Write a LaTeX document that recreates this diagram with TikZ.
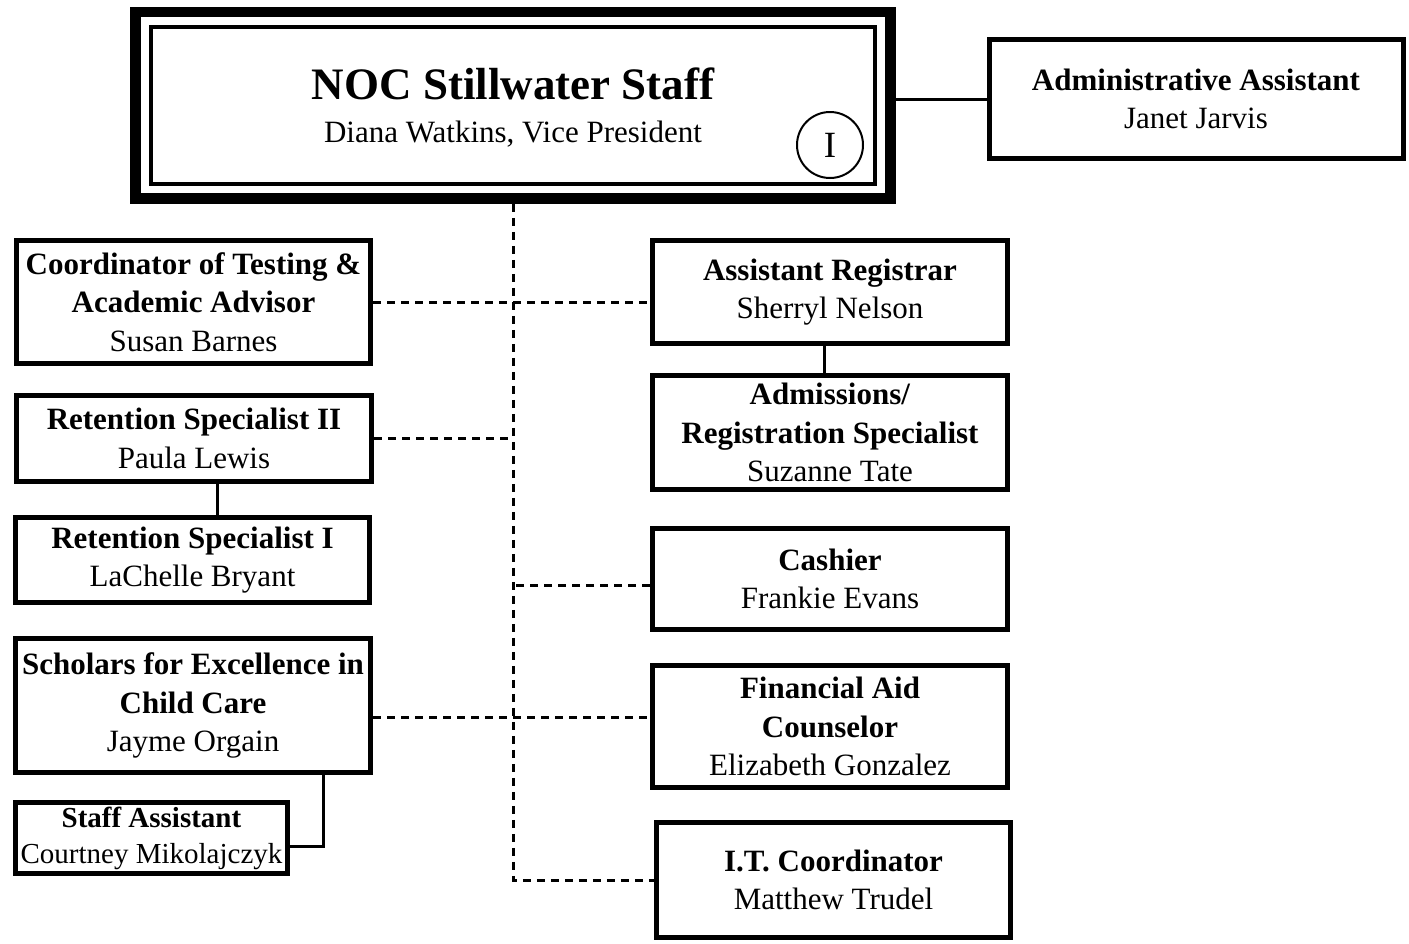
\documentclass[tikz,border=0pt]{standalone}
\usepackage{fontspec}
\setmainfont{Liberation Serif}

\begin{document}
\begin{tikzpicture}[x=1pt,y=-1pt,
    box/.style={draw,line width=5pt,align=center,inner sep=0pt,
        font=\fontsize{31}{38.5}\selectfont},
    link/.style={line width=3pt},
    dashlink/.style={line width=3pt,dash pattern=on 8pt off 6pt}]
    % \draw[help lines] (0,0) grid[step=100] (1409,943);
    \useasboundingbox (0,0) rectangle (1409,943);

    % head of the staff
    \node[draw,line width=10.5pt,minimum width=755pt,minimum height=186.5pt] (top) at (513,105.25) {};
    \draw[line width=4pt] ([shift={(20.25,20.25)}]top.north west) rectangle ([shift={(-20.75,-19.75)}]top.south east);
    \node[anchor=base,font=\fontsize{45}{48}\selectfont\bfseries] (title) at (513,99) {NOC Stillwater Staff};
    \node[anchor=base,font=\fontsize{31}{36}\selectfont] (vp) at (513,142) {Diana Watkins, Vice President};
    \node[draw,circle,line width=2pt,minimum size=66pt,inner sep=0pt,font=\fontsize{37}{37}\selectfont] (badge) at (830,145) {I};

    \node[box,minimum width=414pt,minimum height=119pt] (admin) at (1196,99) {\textbf{Administrative Assistant}\\Janet Jarvis};

    % left column
    \node[box,minimum width=354pt,minimum height=123pt] (coord) at (193.5,302) {\textbf{Coordinator of Testing \&}\\\textbf{Academic Advisor}\\Susan Barnes};
    \node[box,minimum width=355pt,minimum height=86pt] (ret2) at (194,438.5) {\textbf{Retention Specialist II}\\Paula Lewis};
    \node[box,minimum width=354pt,minimum height=85pt] (ret1) at (192.5,560) {\textbf{Retention Specialist I}\\LaChelle Bryant};
    \node[box,minimum width=355pt,minimum height=134pt] (scholars) at (193,705.5) {\textbf{Scholars for Excellence in}\\\textbf{Child Care}\\Jayme Orgain};
    \node[box,minimum width=272pt,minimum height=71pt,font=\fontsize{29}{36}\selectfont] (staffasst) at (151.5,838) {\textbf{Staff Assistant}\\Courtney Mikolajczyk};

    % right column
    \node[box,minimum width=355pt,minimum height=103pt] (asstreg) at (830,292) {\textbf{Assistant Registrar}\\Sherryl Nelson};
    \node[box,minimum width=355pt,minimum height=114pt] (admissions) at (830,432.5) {\textbf{Admissions/}\\\textbf{Registration Specialist}\\Suzanne Tate};
    \node[box,minimum width=355pt,minimum height=101pt] (cashier) at (830,579) {\textbf{Cashier}\\Frankie Evans};
    \node[box,minimum width=355pt,minimum height=122pt] (finaid) at (830,726.5) {\textbf{Financial Aid}\\\textbf{Counselor}\\Elizabeth Gonzalez};
    \node[box,minimum width=354pt,minimum height=115pt] (itcoord) at (833.5,880) {\textbf{I.T. Coordinator}\\Matthew Trudel};

    % connectors
    \draw[link] (top.east |- admin.west) -- (admin.west);
    \draw[dashlink] (top.south) |- (itcoord.west);
    \draw[dashlink] (coord.east) -- (coord.east -| asstreg.west);
    \draw[dashlink] (ret2.east) -- (ret2.east -| top.south);
    \draw[dashlink] ([yshift=-6pt]cashier.west) -- ([yshift=-6pt]cashier.west -| top.south);
    \draw[dashlink] ([yshift=-12pt]scholars.east) -- ([yshift=-12pt]scholars.east -| finaid.west);
    \draw[link] ([xshift=23pt]ret2.south) -- ([xshift=23pt]ret2.south |- ret1.north);
    \draw[link] ([xshift=-6pt]asstreg.south) -- ([xshift=-6pt]asstreg.south |- admissions.north);
    \draw[link] ([xshift=130pt]scholars.south) |- ([yshift=-8pt]staffasst.east);
\end{tikzpicture}
\end{document}
